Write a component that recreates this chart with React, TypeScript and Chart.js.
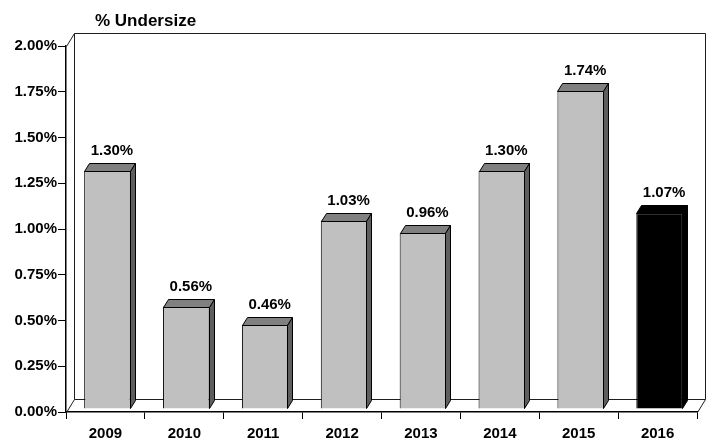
import React, { useEffect, useRef } from "react";
import { Chart, registerables } from "chart.js";

Chart.register(...registerables);

// ---- data ----
const years = ["2009", "2010", "2011", "2012", "2013", "2014", "2015", "2016"];
const undersizePct = [1.3, 0.56, 0.46, 1.03, 0.96, 1.3, 1.74, 1.07];
const yTickValues = [0, 0.25, 0.5, 0.75, 1.0, 1.25, 1.5, 1.75, 2.0];
const chartTitle = "% Undersize";

// ---- styles ----
const FONT = '"Liberation Sans", Arial, Helvetica, sans-serif';
const WALL_DEPTH = { dx: 8, dy: -13 };
const BAR_SHIFT = { dx: 2, dy: -3 };
const BAR_DEPTH = { dx: 5, dy: -8 };
const highlightIndex = years.length - 1;
const frontColors = years.map((_, i) => (i === highlightIndex ? "#000000" : "#C0C0C0"));
const topColors = years.map((_, i) => (i === highlightIndex ? "#000000" : "#808080"));
const sideColors = years.map((_, i) => (i === highlightIndex ? "#000000" : "#5E5E5E"));

const fmtPct = (v: number) => v.toFixed(2) + "%";

const threeDPlugin = {
  id: "threeD",
  beforeDatasetsDraw(chart: any) {
    const { ctx, chartArea: a } = chart;
    const L = a.left + 0.5;
    const R = a.right + 0.5;
    const T = a.top + 0.5;
    const B = a.bottom + 0.5;
    const { dx, dy } = WALL_DEPTH;
    ctx.save();
    ctx.strokeStyle = "#1e1e1e";
    ctx.lineWidth = 1;
    ctx.beginPath();
    ctx.moveTo(L, T);
    ctx.lineTo(L + dx, T + dy);
    ctx.lineTo(R + dx, T + dy);
    ctx.lineTo(R + dx, B + dy);
    ctx.lineTo(R, B);
    ctx.moveTo(L, B);
    ctx.lineTo(L + dx, B + dy);
    ctx.lineTo(R + dx, B + dy);
    ctx.moveTo(L + dx, T + dy);
    ctx.lineTo(L + dx, B + dy);
    ctx.stroke();
    ctx.restore();
  },
  beforeDatasetDraw(chart: any) {
    chart.ctx.save();
    chart.ctx.translate(BAR_SHIFT.dx, BAR_SHIFT.dy);
  },
  afterDatasetDraw(chart: any, args: any) {
    const ctx = chart.ctx;
    const { dx, dy } = BAR_DEPTH;
    args.meta.data.forEach((bar: any, i: number) => {
      const { x, y, base, width } = bar.getProps(["x", "y", "base", "width"], true);
      const x0 = Math.round(x - width / 2) + 0.5;
      const x1 = Math.round(x + width / 2) - 0.5;
      const yt = Math.round(y) + 0.5;
      const yb = Math.round(base) - 0.5;
      ctx.lineWidth = 1;
      ctx.strokeStyle = "#000000";
      ctx.lineJoin = "round";
      ctx.beginPath();
      ctx.moveTo(x0, yt);
      ctx.lineTo(x0 + dx, yt + dy);
      ctx.lineTo(x1 + dx, yt + dy);
      ctx.lineTo(x1, yt);
      ctx.closePath();
      ctx.fillStyle = topColors[i];
      ctx.fill();
      ctx.stroke();
      ctx.beginPath();
      ctx.moveTo(x1, yt);
      ctx.lineTo(x1 + dx, yt + dy);
      ctx.lineTo(x1 + dx, yb + dy);
      ctx.lineTo(x1, yb);
      ctx.closePath();
      ctx.fillStyle = sideColors[i];
      ctx.fill();
      ctx.stroke();
    });
    ctx.restore();
  },
  afterDraw(chart: any) {
    const { ctx, chartArea: a } = chart;
    const meta = chart.getDatasetMeta(0);
    ctx.save();
    ctx.fillStyle = "#000000";
    ctx.font = `bold 15px ${FONT}`;
    ctx.textAlign = "center";
    ctx.textBaseline = "alphabetic";
    meta.data.forEach((bar: any, i: number) => {
      const { x, y } = bar.getProps(["x", "y"], true);
      ctx.fillText(
        fmtPct(undersizePct[i]),
        x + BAR_SHIFT.dx + BAR_DEPTH.dx / 2 + 2,
        y + BAR_SHIFT.dy + BAR_DEPTH.dy - 8
      );
    });
    ctx.font = `bold 17px ${FONT}`;
    ctx.textAlign = "left";
    ctx.fillText(chartTitle, a.left + 29, a.top - 20);
    ctx.restore();
  },
};

export default function App() {
  const canvasRef = useRef<HTMLCanvasElement | null>(null);

  useEffect(() => {
    if (!canvasRef.current) return;
    const chart = new Chart(canvasRef.current, {
      type: "bar",
      data: {
        labels: years,
        datasets: [
          {
            data: undersizePct,
            backgroundColor: frontColors,
            borderColor: "#000000",
            borderWidth: 1,
            barPercentage: 0.59,
            categoryPercentage: 1,
          },
        ],
      },
      options: {
        responsive: false,
        animation: false,
        devicePixelRatio: 1,
        layout: { padding: { left: 0, top: 46, right: 16, bottom: 0 } },
        plugins: {
          legend: { display: false },
          tooltip: { enabled: false },
          title: { display: false },
        },
        scales: {
          x: {
            offset: true,
            grid: {
              display: true,
              offset: true,
              drawOnChartArea: false,
              drawTicks: true,
              tickLength: 7,
              tickColor: "#000000",
              tickWidth: 1,
            },
            border: { display: true, color: "#000000", width: 1.5 },
            ticks: {
              color: "#000000",
              font: { family: FONT, size: 15, weight: "bold" },
              padding: 6,
              maxRotation: 0,
              autoSkip: false,
            },
            afterFit: (scale: any) => {
              scale.height = 28;
            },
          },
          y: {
            min: 0,
            max: 2,
            afterBuildTicks: (scale: any) => {
              scale.ticks = yTickValues.map((v) => ({ value: v }));
            },
            grid: {
              display: true,
              drawOnChartArea: false,
              drawTicks: true,
              tickLength: 8,
              tickColor: "#000000",
              tickWidth: 1,
            },
            border: { display: true, color: "#000000", width: 1.5 },
            ticks: {
              color: "#000000",
              font: { family: FONT, size: 15, weight: "bold" },
              padding: 1,
              callback: (v: any) => fmtPct(Number(v)),
            },
            afterFit: (scale: any) => {
              scale.width = 66;
            },
          },
        },
      },
      plugins: [threeDPlugin],
    });
    return () => chart.destroy();
  }, []);

  return (
    <div
      style={{
        position: "fixed",
        left: 0,
        top: 0,
        width: 713,
        height: 440,
        background: "#ffffff",
      }}
    >
      <canvas ref={canvasRef} width={713} height={440} style={{ display: "block" }} />
    </div>
  );
}
